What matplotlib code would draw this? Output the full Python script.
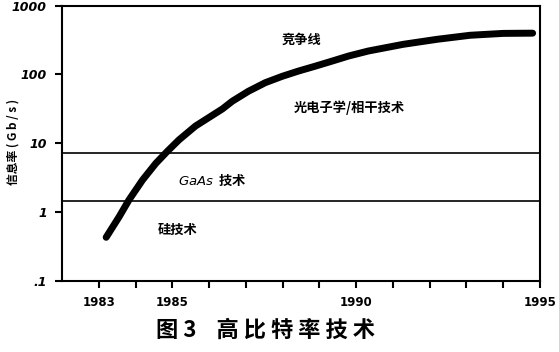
import numpy as np
import matplotlib.pyplot as plt
from matplotlib.ticker import FixedLocator, NullFormatter

plt.rcParams['font.family'] = ['Noto Sans CJK SC', 'DejaVu Sans']

# curve
years = [1983.2, 1983.55, 1983.82, 1984.19, 1984.55, 1984.86, 1985.18, 1985.63,
         1986.36, 1986.63, 1987.07, 1987.53, 1987.99, 1988.43, 1988.89, 1989.34,
         1989.79, 1990.33, 1991.28, 1992.2, 1993.1, 1994.0, 1994.8]
rate = [0.43, 0.85, 1.5, 2.93, 5.1, 7.6, 11.2, 17.8,
        31.5, 40.8, 57, 76, 94, 112, 132, 156,
        185, 219, 274, 324, 371, 395, 398]

gaas_limit = 7.3
si_limit = 1.45

ytick_vals = [0.1, 1, 10, 100, 1000]
ytick_labels = ['.1', '1', '10', '100', '1000']
xtick_vals = [1983, 1985, 1990, 1995]
xtick_labels = ['1983', '1985', '1990', '1995']

fig = plt.figure(figsize=(5.59, 3.52), dpi=100)
ax = fig.add_axes([0.111, 0.202, 0.855, 0.782])

ax.set_yscale('log')
ax.set_xlim(1982, 1995)
ax.set_ylim(0.1, 1000)

ax.plot(years, rate, color='k', linewidth=5, solid_capstyle='round',
        solid_joinstyle='round')
ax.axhline(gaas_limit, color='k', linewidth=1.2)
ax.axhline(si_limit, color='k', linewidth=1.2)

for s in ax.spines.values():
    s.set_linewidth(1.5)

ax.yaxis.set_major_locator(FixedLocator(ytick_vals))
ax.set_yticklabels(ytick_labels, fontsize=9, fontweight='bold', style='italic',
                   family='DejaVu Sans')
ax.yaxis.set_minor_formatter(NullFormatter())
ax.yaxis.set_minor_locator(FixedLocator([]))

ax.xaxis.set_major_locator(FixedLocator(xtick_vals))
ax.set_xticklabels(xtick_labels, fontsize=8.5, fontweight='bold', family='DejaVu Sans')
ax.xaxis.set_minor_locator(FixedLocator(np.arange(1983, 1996)))
ax.tick_params(which='both', direction='out', length=5, width=1.5, pad=6)

fig.text(0.024, 0.597, '信息率 ( G b / s )', fontsize=8.5, fontweight='bold',
         rotation=90, ha='center', va='center')

ax.text(1988.5, 316, '竞争线', fontsize=9.5, fontweight='bold', ha='center', va='center')
ax.text(1988.3, 33, '光电子学/相干技术', fontsize=9.5, fontweight='bold', ha='left', va='center')
ax.text(1985.15, 2.9, '$\\it{GaAs}$  技术', fontsize=9.5, fontweight='bold', ha='left', va='center')
ax.text(1984.6, 0.55, '硅技术', fontsize=9.5, fontweight='bold', ha='left', va='center')

fig.text(0.475, 0.062, '图 3    高 比 特 率 技 术', fontsize=16, fontweight='bold',
         ha='center', va='center')

fig.savefig('out.png', dpi=100)
